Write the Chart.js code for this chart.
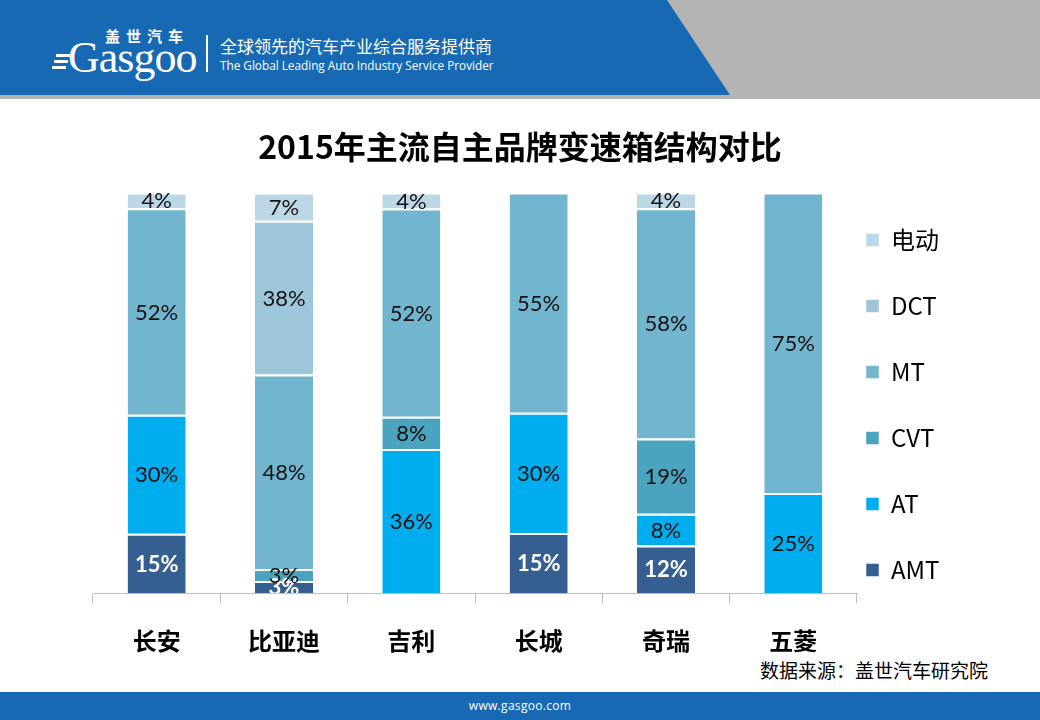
<!DOCTYPE html>
<html>
<head>
<meta charset="utf-8">
<script src="https://cdn.jsdelivr.net/npm/chart.js@4.4.0/dist/chart.umd.min.js"></script>
<style>
  html, body { margin:0; padding:0; background:#fff; }
  body { width:1040px; height:720px; position:relative; overflow:hidden; font-family:"Noto Sans CJK SC","Open Sans",sans-serif; }
  .abs { position:absolute; }
  #grayband { left:0; top:0; width:1040px; height:99px; background:#b4b4b4; }
  #blueband { left:0; top:0; width:1040px; height:95px; background:#1769b4; clip-path:polygon(0 0, 667px 0, 730px 95px, 0 95px); }
  #footer { left:0; top:692px; width:1040px; height:28px; background:#1769b4; }
  #footer span { position:absolute; left:0; width:1040px; top:5px; text-align:center; color:#fff; font:12px "Open Sans",sans-serif; letter-spacing:0.3px; }
  #cvs { left:0; top:0; }
  .w { color:#fff; white-space:nowrap; }
</style>
</head>
<body>
<div id="grayband" class="abs"></div>
<div id="blueband" class="abs"></div>
<div class="abs w" style="left:105px;top:25px;font:bold 15px 'Noto Sans CJK SC';letter-spacing:6px;">盖世汽车</div>
<div class="abs" style="left:56px;top:54px;width:14px;height:3px;background:#fff;"></div>
<div class="abs" style="left:54px;top:60px;width:14px;height:3px;background:#fff;"></div>
<div class="abs" style="left:52px;top:66px;width:14px;height:3px;background:#fff;"></div>
<div class="abs w" style="left:68px;top:32px;font:44px 'Liberation Serif',serif;letter-spacing:-1px;">Gasgoo</div>
<div class="abs" style="left:206px;top:35px;width:2px;height:37px;background:#fff;"></div>
<div class="abs w" style="left:220px;top:33px;font:17px 'Noto Sans CJK SC';">全球领先的汽车产业综合服务提供商</div>
<div class="abs w" style="left:220px;top:57px;font:12px 'Open Sans',sans-serif;transform:scaleX(0.98);transform-origin:left top;">The Global Leading Auto Industry Service Provider</div>
<div id="footer" class="abs"><span>www.gasgoo.com</span></div>
<div class="abs" style="left:760px;top:656px;font:19px 'Noto Sans CJK SC';color:#000;white-space:nowrap;">数据来源：盖世汽车研究院</div>
<canvas id="cvs" class="abs" width="1040" height="720"></canvas>
<script>
const categories = ['长安', '比亚迪', '吉利', '长城', '奇瑞', '五菱'];
const amt = [15, 3, 0, 15, 12, 0];
const at  = [30, 0, 36, 30, 8, 25];
const cvt = [0, 3, 8, 0, 19, 0];
const mt  = [52, 48, 52, 55, 58, 75];
const dct = [0, 38, 0, 0, 0, 0];
const ev  = [4, 7, 4, 0, 4, 0];
const seriesNames = ['AMT', 'AT', 'CVT', 'MT', 'DCT', '电动'];
const seriesColors = ['#355e91', '#00aeef', '#4aa3bf', '#72b5cf', '#9ec6db', '#bcd8e6'];

const rawSeries = [amt, at, cvt, mt, dct, ev];
const totals = categories.map((c, i) => rawSeries.reduce((s, arr) => s + arr[i], 0));

const FONT_CJK = '"Noto Sans CJK SC", "Open Sans", sans-serif';

const datasets = rawSeries.map((arr, k) => ({
  label: seriesNames[k],
  data: arr.map((v, i) => v / totals[i] * 100),
  rawValues: arr,
  backgroundColor: seriesColors[k],
  borderColor: '#ffffff',
  borderWidth: {top: 2, left: 0, right: 0, bottom: 0},
  borderSkipped: false,
  barPercentage: 0.456,
  categoryPercentage: 1.0
}));

const barLabels = {
  id: 'barLabels',
  afterDatasetsDraw(chart) {
    const {ctx, chartArea} = chart;
    ctx.save();
    ctx.beginPath();
    ctx.rect(0, 0, chart.width, chartArea.bottom);
    ctx.clip();
    ctx.textAlign = 'center';
    ctx.textBaseline = 'middle';
    chart.data.datasets.forEach((ds, di) => {
      const meta = chart.getDatasetMeta(di);
      meta.data.forEach((bar, i) => {
        const v = ds.rawValues[i];
        if (!v) return;
        const p = bar.getProps(['x', 'y', 'base'], true);
        const isAMT = di === 0;
        ctx.font = (isAMT ? 'bold ' : '') + '22px Lato, "Open Sans", sans-serif';
        ctx.fillStyle = isAMT ? '#ffffff' : '#111111';
        ctx.fillText(v + '%', p.x, (p.y + p.base) / 2 + 1);
      });
    });
    ctx.restore();
  }
};

const legendPlace = {
  id: 'legendPlace',
  afterLayout(chart) {
    const lg = chart.legend;
    if (!lg) return;
    const pad = lg.options.labels.padding;
    lg.left = 866 - pad;
    lg.right = chart.width;
    lg.top = 240 - 12 - pad;
    lg.bottom = chart.height;
  }
};

new Chart(document.getElementById('cvs'), {
  type: 'bar',
  data: { labels: categories, datasets },
  plugins: [barLabels, legendPlace],
  options: {
    responsive: false,
    animation: false,
    layout: { padding: { left: 93, right: 93, top: 0, bottom: 42 } },
    plugins: {
      title: {
        display: true,
        text: '2015年主流自主品牌变速箱结构对比',
        color: '#000',
        font: { family: FONT_CJK, size: 32, weight: 'bold', lineHeight: 1.2 },
        padding: { top: 128, bottom: 26 }
      },
      legend: {
        display: true,
        position: 'right',
        align: 'start',
        reverse: true,
        maxWidth: 90,
        labels: {
          boxWidth: 13,
          boxHeight: 13,
          padding: 42,
          color: '#000',
          font: { family: FONT_CJK, size: 24 }
        }
      },
      tooltip: { enabled: false }
    },
    scales: {
      x: {
        stacked: true,
        grid: { display: true, drawOnChartArea: false, drawTicks: true, tickLength: 10, color: '#bfbfbf', offset: true },
        border: { display: true, color: '#bfbfbf', width: 1 },
        ticks: { color: '#000', padding: 23, font: { family: FONT_CJK, size: 24, weight: 'bold' } }
      },
      y: { stacked: true, display: false, min: 0, max: 100 }
    }
  }
});
</script>
</body>
</html>
